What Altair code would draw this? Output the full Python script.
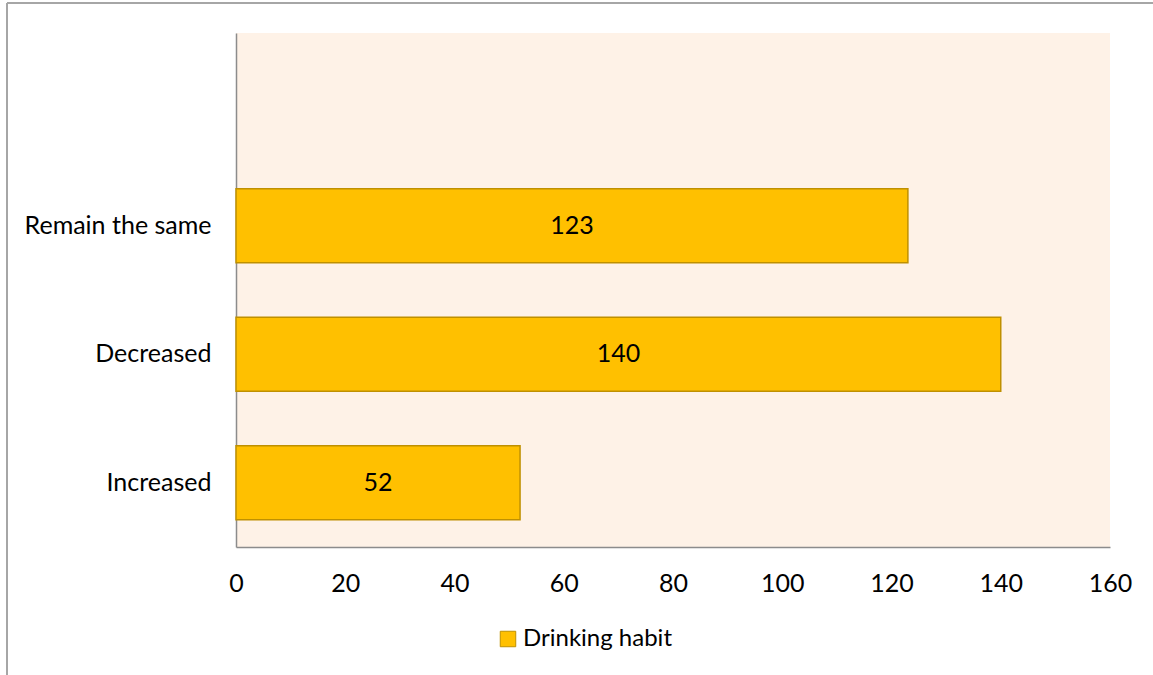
import altair as alt
import pandas as pd

categories = ["Remain the same", "Decreased", "Increased"]
counts = [123, 140, 52]
series_name = "Drinking habit"
y_order = [" ", "Remain the same", "Decreased", "Increased"]
x_ticks = [0, 20, 40, 60, 80, 100, 120, 140, 160]

df = pd.DataFrame({"category": categories, "count": counts, "series": [series_name] * 3})

FONT = "Lato"
FS = 25

y_enc = alt.Y("category:N", sort=y_order,
              scale=alt.Scale(domain=y_order, paddingInner=0.424, paddingOuter=0.212),
              axis=alt.Axis(title=None, ticks=False, domain=True, domainColor="#8C8C8C",
                            domainWidth=1.5, labelFontSize=FS, labelFont=FONT,
                            labelColor="#000000", labelPadding=25, grid=False,
                            labelLimit=400))

bars = alt.Chart(df).mark_bar(stroke="#BF9000", strokeWidth=1.5).encode(
    x=alt.X("count:Q", scale=alt.Scale(domain=[0, 160], nice=False),
            axis=alt.Axis(title=None, values=x_ticks, ticks=False, grid=False,
                          domainColor="#8C8C8C", domainWidth=1.5, labelFontSize=FS,
                          labelFont=FONT, labelColor="#000000", labelPadding=24,
                          labelFlush=False)),
    y=y_enc,
    color=alt.Color("series:N", scale=alt.Scale(range=["#FFC000"]),
                    legend=alt.Legend(title=None, orient="none", legendX=260, legendY=594,
                                      symbolType="square", symbolSize=240,
                                      symbolStrokeColor="#BF9000", symbolStrokeWidth=1,
                                      labelFontSize=24, labelFont=FONT, labelColor="#000000",
                                      labelOffset=3, labelLimit=400)),
)

labels = alt.Chart(df).transform_calculate(mid="datum.count / 2").mark_text(
    fontSize=FS, font=FONT, color="#000000", baseline="middle"
).encode(
    x=alt.X("mid:Q"),
    y=alt.Y("category:N", sort=y_order),
    text=alt.Text("count:Q"),
)

frame_left = alt.Chart(df).mark_rule(color="#A6A6A6", strokeWidth=2).encode(
    x=alt.value(-229), y=alt.value(-30), y2=alt.value(700)
)
frame_top = alt.Chart(df).mark_rule(color="#A6A6A6", strokeWidth=2).encode(
    x=alt.value(-229), x2=alt.value(1000), y=alt.value(-30)
)

chart = alt.layer(bars, labels, frame_left, frame_top).properties(
    width=874, height=514,
    autosize=alt.AutoSizeParams(type="none"),
    padding={"left": 236, "top": 33, "right": 43, "bottom": 128},
    background="#FFFFFF",
).configure_view(fill="#FEF2E7", stroke=None)

chart.save("out.html", embed_options={"renderer": "svg", "actions": False})
